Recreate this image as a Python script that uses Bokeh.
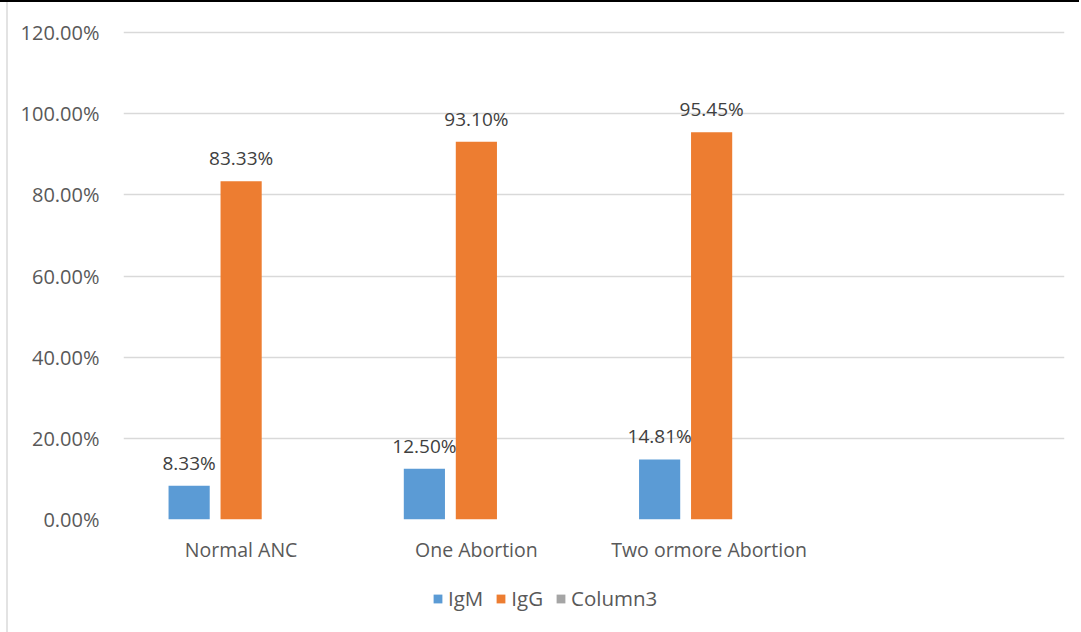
from bokeh.plotting import figure
from bokeh.layouts import column
from bokeh.models import (FactorRange, Range1d, PrintfTickFormatter, Legend,
                          LegendItem, ColumnDataSource, FixedTicker)
from bokeh.transform import dodge
from bokeh.core.properties import value
from bokeh.embed import file_html
from bokeh.resources import INLINE

# ---- data -------------------------------------------------------------
categories = ["Normal ANC", "One Abortion", "Two  ormore Abortion"]
axis_factors = categories + [" "]          # trailing empty slot on the axis
series_names = ["IgM", "IgG", "Column3"]
series_colors = ["#5B9BD5", "#ED7D31", "#A5A5A5"]
igm = [8.33, 12.50, 14.81]
igg = [83.33, 93.10, 95.45]
column3 = [0, 0, 0]
y_ticks = [0, 20, 40, 60, 80, 100, 120]

FONT = "Open Sans"
TICK_COLOR = "#595959"
LABEL_COLOR = "#404040"
SIDE = {"margin-left": "6px", "border-left": "2px solid #E3E3E3"}

src = ColumnDataSource(dict(
    cat=categories,
    igm=igm,
    igg=igg,
    c3=column3,
    igm_lbl=[f"{v:.2f}%" for v in igm],
    igg_lbl=[f"{v:.2f}%" for v in igg],
))

# ---- main chart -------------------------------------------------------
p = figure(width=1073, height=575,
           x_range=FactorRange(*axis_factors, range_padding=0),
           y_range=Range1d(0, 120.5),
           output_backend="svg", toolbar_location=None,
           min_border_left=115, min_border_right=17,
           min_border_top=28, min_border_bottom=58,
           styles=SIDE)
p.outline_line_color = None
p.background_fill_color = "white"
p.border_fill_color = "white"

OFF = 0.221
W = 0.175
for off, col, color in zip([-OFF, 0.0, OFF], ["igm", "igg", "c3"], series_colors):
    p.vbar(x=dodge("cat", off, range=p.x_range), top=col, width=W,
           source=src, fill_color=color, line_color=None)

# value labels above the IgM / IgG bars
for off, col, lbl in [(-OFF, "igm", "igm_lbl"), (0.0, "igg", "igg_lbl")]:
    p.text(x=dodge("cat", off, range=p.x_range), y=col, text=lbl, source=src,
           text_align="center", text_baseline="alphabetic", y_offset=-23,
           text_font=value(FONT), text_font_size="19px", text_color=LABEL_COLOR)

p.yaxis.ticker = FixedTicker(ticks=y_ticks)
p.yaxis.formatter = PrintfTickFormatter(format="%.2f%%")
for ax in (p.xaxis[0], p.yaxis[0]):
    ax.axis_line_color = None
    ax.major_tick_line_color = None
    ax.minor_tick_line_color = None
    ax.major_label_text_font = FONT
    ax.major_label_text_color = TICK_COLOR
p.yaxis.major_label_text_font_size = "20px"
p.xaxis.major_label_text_font_size = "19.5px"
p.yaxis.major_label_standoff = 18
p.xaxis.major_label_standoff = 10

p.xgrid.grid_line_color = None
p.ygrid.ticker = FixedTicker(ticks=y_ticks)
p.ygrid.grid_line_color = "#D9D9D9"
p.ygrid.grid_line_width = 1.5

# ---- legend strip under the chart (frame aligned with the chart's) ----
q = figure(width=1073, height=55, x_range=(0, 1), y_range=(0, 1),
           x_axis_location=None, y_axis_location=None,
           output_backend="svg", toolbar_location=None,
           min_border=0, styles=SIDE)
q.grid.visible = False
q.outline_line_color = None
q.border_fill_color = "white"
q.background_fill_color = "white"

items = []
for name, color in zip(series_names, series_colors):
    # zero-size swatch renderer, only used for its legend glyph
    swatch = q.vbar(x=[0], top=[0], width=0, fill_color=color, line_color=None)
    items.append(LegendItem(label=name, renderers=[swatch]))

legend = Legend(items=items, orientation="horizontal", location=(309, 20),
                glyph_width=11, glyph_height=11, label_standoff=5, spacing=12,
                padding=0, margin=0, border_line_color=None,
                background_fill_alpha=0,
                label_text_font=FONT, label_text_font_size="20.5px",
                label_text_color=TICK_COLOR)
q.add_layout(legend)

page = column(p, q, spacing=0, styles={"border-top": "2px solid black"})

open("out.html", "w").write(file_html(page, INLINE))
